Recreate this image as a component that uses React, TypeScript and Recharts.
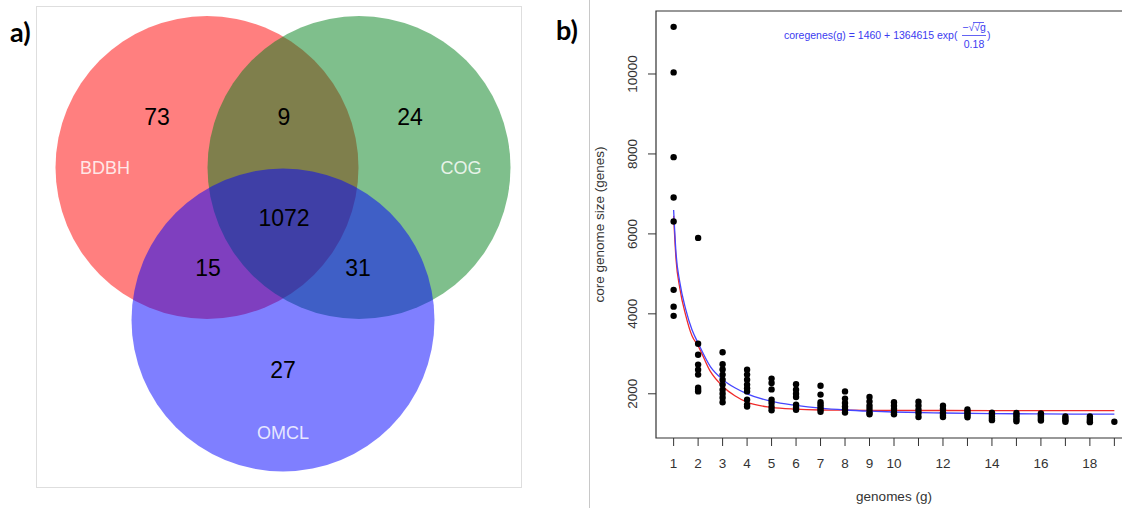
import React from "react";
import {
  ScatterChart,
  ComposedChart,
  Scatter,
  Line,
  XAxis,
  YAxis,
  ReferenceArea,
  Label,
} from "recharts";

// ---------- panel a) : Venn counts ----------
const setNames = ["BDBH", "COG", "OMCL"];
const setColors = ["#ff0000", "#00801a", "#0000ff"];
const regionKeys = ["BDBH", "BDBH+COG", "COG", "all", "BDBH+OMCL", "COG+OMCL", "OMCL"];
const regionCounts = [73, 9, 24, 1072, 15, 31, 27];

// ---------- panel b) : core genome size vs number of genomes ----------
const genomeTicks = [1, 2, 3, 4, 5, 6, 7, 8, 9, 10, 11, 12, 13, 14, 15, 16, 17, 18, 19];
const sizeTicks = [2000, 4000, 6000, 8000, 10000];

// one list of sampled core sizes per genome count (g = 1 .. 19)
const coreSizes: number[][] = [
  [11180, 10040, 7920, 6910, 6310, 4600, 4180, 3950],
  [5900, 3250, 2975, 2730, 2600, 2480, 2150, 2100, 2060],
  [3040, 2740, 2610, 2480, 2350, 2230, 2100, 2000, 1900, 1790],
  [2600, 2480, 2350, 2230, 2140, 2060, 1850, 1730, 1680],
  [2380, 2270, 2110, 1850, 1770, 1670, 1590],
  [2240, 2100, 2000, 1920, 1730, 1650, 1600],
  [2200, 1980, 1790, 1730, 1670, 1610, 1550],
  [2060, 1880, 1770, 1680, 1610, 1530],
  [1920, 1810, 1700, 1620, 1540, 1490],
  [1790, 1700, 1620, 1540, 1490],
  [1800, 1700, 1600, 1520, 1420],
  [1700, 1620, 1530, 1470, 1420],
  [1610, 1560, 1510, 1460, 1410],
  [1530, 1480, 1430, 1380, 1340],
  [1520, 1470, 1420, 1360, 1310],
  [1510, 1460, 1420, 1370, 1330],
  [1430, 1380, 1340, 1300],
  [1430, 1370, 1320, 1290],
  [1300],
];

// fitted curves
const fitG = [1, 1.1, 1.25, 1.5, 1.75, 2, 2.5, 3, 3.5, 4, 5, 6, 7, 8, 9, 10, 12, 14, 16, 19];
const blueFit = [6600, 5500, 4800, 4100, 3600, 3270, 2680, 2360, 2150, 2000, 1810, 1710, 1640, 1595, 1565, 1545, 1520, 1505, 1497, 1490];
const redFit = [6450, 5350, 4650, 3950, 3450, 3200, 2560, 2190, 1950, 1790, 1660, 1615, 1595, 1588, 1585, 1583, 1582, 1581, 1580, 1580];

// ---------- layout ----------
const VENN_W = 486;
const VENN_H = 482;
const VENN_R = 151.5;
const circleAt = [
  { x: 171, y: 161.5 },
  { x: 323, y: 161.5 },
  { x: 247, y: 314 },
];
const countAt = [
  { x: 121, y: 111 },
  { x: 248, y: 111 },
  { x: 374, y: 111 },
  { x: 248, y: 212 },
  { x: 172, y: 262 },
  { x: 322, y: 262 },
  { x: 247, y: 364 },
];
const setLabelAt = [
  { x: 69, y: 162 },
  { x: 425, y: 162 },
  { x: 247, y: 427 },
];

const FONT = '"Liberation Sans", Arial, sans-serif';
const AXIS_TXT = "#333";

const circles = setNames.map((name, i) => ({ name, color: setColors[i], ...circleAt[i] }));
const counts = regionKeys.map((key, i) => ({ key, label: String(regionCounts[i]), ...countAt[i] }));
const setLabels = setNames.map((name, i) => ({ label: name, ...setLabelAt[i] }));

const points = coreSizes.flatMap((list, i) => list.map((v) => ({ g: genomeTicks[i], v })));
const blueCurve = fitG.map((g, i) => ({ g, v: blueFit[i] }));
const redCurve = fitG.map((g, i) => ({ g, v: redFit[i] }));

function VennPanel() {
  return (
    <ScatterChart width={VENN_W} height={VENN_H} margin={{ top: 0, right: 0, bottom: 0, left: 0 }}>
      <XAxis type="number" dataKey="x" domain={[0, VENN_W]} hide allowDataOverflow />
      <YAxis type="number" dataKey="y" domain={[0, VENN_H]} hide reversed allowDataOverflow />
      <Scatter
        data={circles}
        isAnimationActive={false}
        shape={(p: any) => (
          <circle cx={p.cx} cy={p.cy} r={VENN_R} fill={p.payload.color} fillOpacity={0.5} />
        )}
      />
      <Scatter
        data={counts}
        isAnimationActive={false}
        shape={(p: any) => (
          <text x={p.cx} y={p.cy} textAnchor="middle" dominantBaseline="central"
            fontFamily={FONT} fontSize={23} fill="#000">
            {p.payload.label}
          </text>
        )}
      />
      <Scatter
        data={setLabels}
        isAnimationActive={false}
        shape={(p: any) => (
          <text x={p.cx} y={p.cy} textAnchor="middle" dominantBaseline="central"
            fontFamily={FONT} fontSize={18} fill="#fff" fillOpacity={0.82}>
            {p.payload.label}
          </text>
        )}
      />
    </ScatterChart>
  );
}

function Formula({ viewBox }: any) {
  const cx = viewBox.x + viewBox.width / 2;
  const x0 = cx - 110;
  const fx = x0 + 190;
  const style = { fontFamily: FONT, fontSize: 10.5, fill: "#3b3bf0" };
  return (
    <g>
      <text x={x0} y={39} {...style}>coregenes(g) = 1460 + 1364615 exp(</text>
      <text x={fx} y={31} textAnchor="middle" {...style}>−√√g</text>
      <line x1={fx - 12} x2={fx + 12} y1={35.5} y2={35.5} stroke="#3b3bf0" strokeWidth={0.8} />
      <line x1={fx - 1} x2={fx + 10} y1={22.5} y2={22.5} stroke="#3b3bf0" strokeWidth={0.8} />
      <text x={fx} y={48} textAnchor="middle" {...style}>0.18</text>
      <text x={fx + 13} y={39} {...style}>)</text>
    </g>
  );
}

function YTick({ x, y, payload }: any) {
  const tx = x - 9;
  return (
    <text x={tx} y={y} transform={`rotate(-90 ${tx} ${y})`} textAnchor="middle"
      fontFamily={FONT} fontSize={13.5} fill={AXIS_TXT}>
      {payload.value}
    </text>
  );
}

function CorePanel() {
  return (
    <ComposedChart width={560} height={508} margin={{ top: 11, right: 18, bottom: 0, left: 0 }}>
      <XAxis
        type="number"
        dataKey="g"
        domain={[0.28, 19.72]}
        allowDataOverflow
        ticks={genomeTicks}
        interval={0}
        tickFormatter={(v: number) => (v <= 10 || v % 2 === 0 ? String(v) : "")}
        height={70}
        tickSize={8}
        tickMargin={12}
        axisLine={false}
        tickLine={{ stroke: AXIS_TXT }}
        tick={{ fontFamily: FONT, fontSize: 13.5, fill: AXIS_TXT }}
      >
        <Label value="genomes (g)" position="insideBottom" offset={7}
          style={{ fontFamily: FONT, fontSize: 13.5, fill: AXIS_TXT }} />
      </XAxis>
      <YAxis
        type="number"
        dataKey="v"
        domain={[894, 11576]}
        allowDataOverflow
        ticks={sizeTicks}
        width={66}
        tickSize={8}
        axisLine={false}
        tickLine={{ stroke: AXIS_TXT }}
        tick={<YTick />}
      >
        <Label
          content={({ viewBox }: any) => {
            const lx = viewBox.x + 14;
            const ly = viewBox.y + viewBox.height / 2;
            return (
              <text x={lx} y={ly} transform={`rotate(-90 ${lx} ${ly})`} textAnchor="middle"
                fontFamily={FONT} fontSize={13.5} fill={AXIS_TXT}>
                core genome size (genes)
              </text>
            );
          }}
        />
      </YAxis>
      <ReferenceArea x1={0.28} x2={19.72} y1={894} y2={11576} fill="none" stroke="#333" strokeWidth={1.2}
        ifOverflow="visible" label={<Formula />} />
      <Scatter
        data={points}
        isAnimationActive={false}
        shape={(p: any) => <circle cx={p.cx} cy={p.cy} r={3.2} fill="#000" />}
      />
      <Line data={redCurve} dataKey="v" type="monotone" stroke="#f02a2a" strokeWidth={1.3}
        dot={false} isAnimationActive={false} />
      <Line data={blueCurve} dataKey="v" type="monotone" stroke="#4646ff" strokeWidth={1.3}
        dot={false} isAnimationActive={false} />
    </ComposedChart>
  );
}

const panelTag: React.CSSProperties = {
  position: "absolute",
  fontFamily: "Lato, sans-serif",
  fontWeight: 700,
  fontSize: 27,
  lineHeight: "27px",
  color: "#000",
};

export default function App() {
  return (
    <div style={{ position: "absolute", left: 0, top: 0, width: 1122, height: 508, overflow: "hidden", background: "#fff" }}>
      <div style={{ ...panelTag, left: 10, top: 18 }}>a)</div>
      <div style={{ position: "absolute", left: 36, top: 6, width: VENN_W, height: VENN_H, border: "1px solid #dedede", boxSizing: "border-box" }} />
      <div style={{ position: "absolute", left: 36, top: 6 }}>
        <VennPanel />
      </div>
      <div style={{ position: "absolute", left: 589, top: 0, width: 1, height: 508, background: "#c8c8c8" }} />
      <div style={{ ...panelTag, left: 556, top: 16 }}>b)</div>
      <div style={{ position: "absolute", left: 590, top: 0 }}>
        <CorePanel />
      </div>
    </div>
  );
}
